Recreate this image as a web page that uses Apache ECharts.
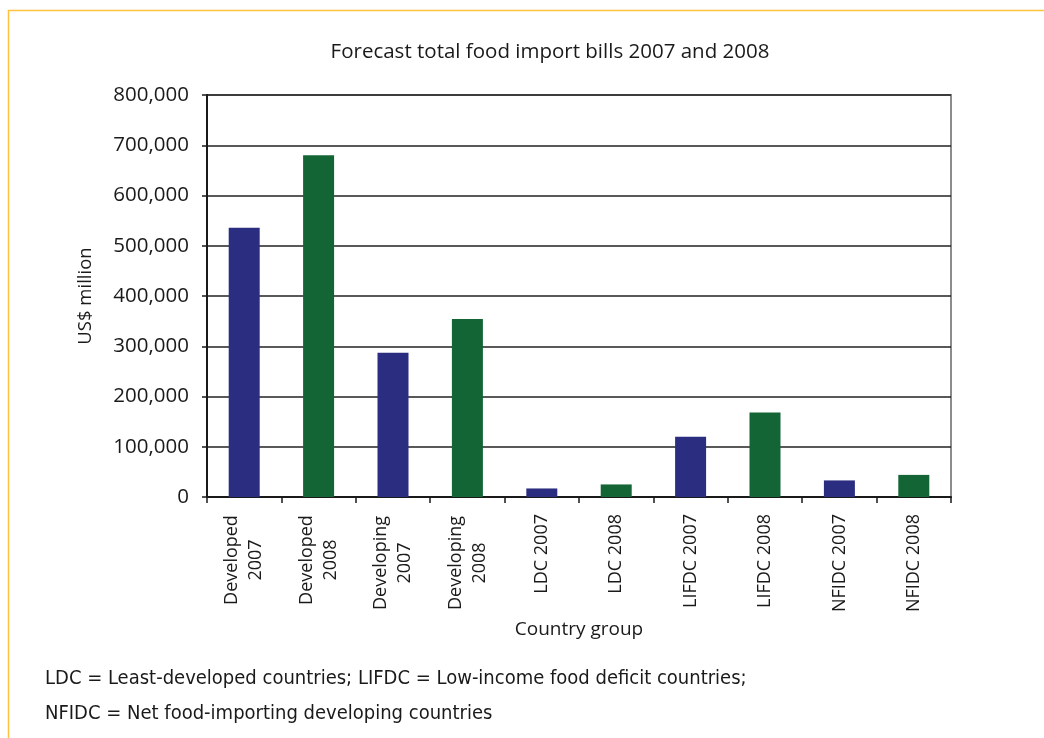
<!DOCTYPE html>
<html>
<head>
<meta charset="utf-8">
<script src="https://cdn.jsdelivr.net/npm/echarts@6/dist/echarts.min.js"></script>
<style>
  html, body { margin: 0; padding: 0; background: #fff; }
  #chart { width: 1044px; height: 738px; }
</style>
</head>
<body>
<div id="chart"></div>
<script>
// country groups, values in US$ million
var categories = ['Developed 2007', 'Developed 2008', 'Developing 2007', 'Developing 2008',
  'LDC 2007', 'LDC 2008', 'LIFDC 2007', 'LIFDC 2008', 'NFIDC 2007', 'NFIDC 2008']
var values = [536000, 680000, 287000, 354000, 17000, 25000, 120000, 168000, 33000, 44000]
var yTicks = [0, 100000, 200000, 300000, 400000, 500000, 600000, 700000, 800000]
var footnotes = [
  'LDC = Least-developed countries; LIFDC = Low-income food deficit countries;',
  'NFIDC = Net food-importing developing countries'
]

var color2007 = '#2b2e80'
var color2008 = '#136535'
var font = 'Open Sans'
var noteFont = '"DejaVu Sans Condensed", "Liberation Sans", sans-serif'

var myChart = echarts.init(document.getElementById('chart'))

var barData = values.map(function (v, i) {
  return {
    value: v,
    itemStyle: { color: categories[i].indexOf('2007') >= 0 ? color2007 : color2008 }
  }
})

// split "Developed 2007" style labels on two lines, keep the short ones on one
function catLabel(name) {
  var parts = name.split(' ')
  if (parts[0] === 'Developed') return '{a|' + parts[0] + '}\n{a|' + parts[1] + '}'
  if (parts[0] === 'Developing') return '{b|' + parts[0] + '}\n{b|' + parts[1] + '}'
  return name
}

var option = {
  animation: false,
  title: {
    text: 'Forecast total food import bills 2007 and 2008',
    left: 545,
    top: 37,
    textAlign: 'center',
    textStyle: { fontFamily: font, fontSize: 20.5, fontWeight: 'normal', color: '#1a1a1a' }
  },
  grid: {
    left: 207,
    right: 93,
    top: 95,
    bottom: 241,
    show: true,
    borderColor: '#8c8c8c',
    borderWidth: 2
  },
  xAxis: {
    type: 'category',
    data: categories,
    name: 'Country group',
    nameLocation: 'middle',
    nameGap: 119,
    nameTextStyle: { fontFamily: font, fontSize: 19, color: '#1a1a1a' },
    axisLine: { lineStyle: { color: '#1a1a1a', width: 2 } },
    axisTick: { show: true, length: 6, lineStyle: { color: '#1a1a1a', width: 1.5 } },
    axisLabel: {
      rotate: 90,
      margin: 17,
      interval: 0,
      fontFamily: font,
      fontSize: 18,
      color: '#1a1a1a',
      lineHeight: 24,
      formatter: catLabel,
      rich: {
        a: { width: 92, align: 'center', fontFamily: font, fontSize: 18, color: '#1a1a1a', lineHeight: 24 },
        b: { width: 98, align: 'center', fontFamily: font, fontSize: 18, color: '#1a1a1a', lineHeight: 24 }
      }
    }
  },
  yAxis: {
    type: 'value',
    min: yTicks[0],
    max: yTicks[yTicks.length - 1],
    interval: yTicks[1] - yTicks[0],
    name: 'US$ million',
    nameLocation: 'middle',
    nameGap: 112,
    nameTextStyle: { fontFamily: font, fontSize: 18.5, color: '#1a1a1a' },
    axisLine: { show: true, lineStyle: { color: '#1a1a1a', width: 2 } },
    axisTick: { show: true, length: 5, lineStyle: { color: '#1a1a1a', width: 1.5 } },
    axisLabel: {
      margin: 18,
      fontFamily: font,
      fontSize: 20.5,
      color: '#1a1a1a',
      formatter: function (v) { return v.toLocaleString('en-US') }
    },
    splitLine: { show: true, lineStyle: { color: '#222', width: 1.5 } }
  },
  series: [{
    type: 'bar',
    data: barData,
    barWidth: 31
  }],
  graphic: [
    {
      type: 'polyline',
      shape: { points: [[8.5, 738], [8.5, 10.5], [1044, 10.5]] },
      style: { stroke: '#ffc23f', lineWidth: 1.5, fill: null },
      silent: true
    },
    {
      type: 'text',
      left: 45,
      top: 669,
      style: { text: footnotes[0], fontFamily: noteFont, fontSize: 20, fill: '#1a1a1a' }
    },
    {
      type: 'text',
      left: 45,
      top: 704,
      style: { text: footnotes[1], fontFamily: noteFont, fontSize: 20, fill: '#1a1a1a' }
    }
  ]
}

myChart.setOption(option)
</script>
</body>
</html>
